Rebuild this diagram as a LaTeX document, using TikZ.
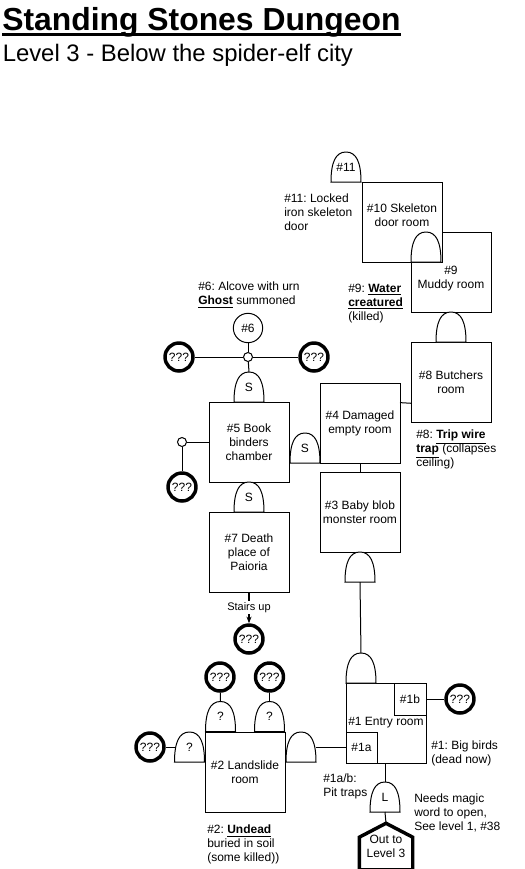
\documentclass[tikz,border=0pt]{standalone}
\usepackage{fontspec}
\setmainfont{Liberation Sans}
\usepackage{tikz}
\usetikzlibrary{arrows.meta,positioning}
\newdimen\shapeleft
\newdimen\shaperight
\newdimen\shapetop
\newdimen\shapebottom
\newdimen\shapemid
\newdimen\shapeside
\newdimen\shapebend
\makeatletter
\newcommand{\shapeextent}[1]{%
  \southwest \shapeleft=\pgf@x \shapebottom=\pgf@y
  \northeast \shaperight=\pgf@x \shapetop=\pgf@y
  \shapemid=.5\shapeleft \advance\shapemid by .5\shaperight
  \shapeside=#1\shapetop \advance\shapeside by \shapebottom \advance\shapeside by -#1\shapebottom
  \shapebend=.15\shaperight \advance\shapebend by -.15\shapeleft
}
\pgfdeclareshape{archdoor}{
  \inheritsavedanchors[from=rectangle]
  \inheritanchorborder[from=rectangle]
  \inheritanchor[from=rectangle]{center}
  \inheritanchor[from=rectangle]{north}
  \inheritanchor[from=rectangle]{south}
  \inheritanchor[from=rectangle]{east}
  \inheritanchor[from=rectangle]{west}
  \inheritanchor[from=rectangle]{south west}
  \inheritanchor[from=rectangle]{south east}
  \backgroundpath{
    \shapeextent{.65}
    \pgfpathmoveto{\pgfqpoint{\shapeleft}{\shapebottom}}
    \pgfpathcurveto{\pgfqpoint{\shapeleft}{\shapeside}}
      {\pgfpointadd{\pgfqpoint{\shapeleft}{\shapetop}}{\pgfqpoint{\shapebend}{0pt}}}
      {\pgfqpoint{\shapemid}{\shapetop}}
    \pgfpathcurveto{\pgfpointadd{\pgfqpoint{\shaperight}{\shapetop}}{\pgfqpoint{-\shapebend}{0pt}}}
      {\pgfqpoint{\shaperight}{\shapeside}}
      {\pgfqpoint{\shaperight}{\shapebottom}}
    \pgfpathclose
  }
}
\pgfdeclareshape{exithouse}{
  \inheritsavedanchors[from=rectangle]
  \inheritanchorborder[from=rectangle]
  \inheritanchor[from=rectangle]{center}
  \inheritanchor[from=rectangle]{north}
  \inheritanchor[from=rectangle]{south}
  \backgroundpath{
    \shapeextent{.7}
    \pgfpathmoveto{\pgfqpoint{\shapeleft}{\shapebottom}}
    \pgfpathlineto{\pgfqpoint{\shapeleft}{\shapeside}}
    \pgfpathlineto{\pgfqpoint{\shapemid}{\shapetop}}
    \pgfpathlineto{\pgfqpoint{\shaperight}{\shapeside}}
    \pgfpathlineto{\pgfqpoint{\shaperight}{\shapebottom}}
    \pgfpathclose
  }
}
\makeatother
\newcommand{\plantext}{\fontsize{9}{10.5}\selectfont\frenchspacing}
\tikzset{
  room/.style={
    draw=black,
    fill=white,
    align=center,
    minimum size=60pt,
    inner sep=0pt,
    outer sep=0pt,
    line width=.75pt,
    font=\plantext
  },
  subroom/.style={
    room,
    minimum size=24pt
  },
  door/.style={
    shape=archdoor,
    draw=black,
    fill=white,
    minimum size=22.5pt,
    inner sep=0pt,
    outer sep=0pt,
    line width=.75pt,
    font=\plantext
  },
  unknown/.style={
    circle,
    draw=black,
    fill=white,
    minimum size=21pt,
    inner sep=0pt,
    line width=2.6pt,
    font=\plantext
  },
  alcove/.style={
    circle,
    draw=black,
    fill=white,
    minimum size=22pt,
    inner sep=0pt,
    line width=.75pt,
    font=\plantext
  },
  junction/.style={
    circle,
    draw=black,
    fill=white,
    minimum size=6.75pt,
    inner sep=0pt,
    line width=.75pt
  },
  exitdoor/.style={
    shape=exithouse,
    draw=black,
    fill=white,
    align=center,
    minimum width=37.5pt,
    minimum height=32.25pt,
    inner sep=0pt,
    line width=2.6pt,
    font=\plantext
  },
  note/.style={
    align=left,
    anchor=north west,
    inner sep=0pt,
    font=\plantext
  },
  hall/.style={
    line width=.75pt,
    black
  },
  arrow/.style={
    -{Stealth[length=5pt]},
    line width=1.1pt,
    black
  }
}

\begin{document}
\begin{tikzpicture}[x=.75pt,y=-.75pt]
\useasboundingbox (0,0) rectangle (525,869);

\node[note, font=\fontsize{23.9}{28}\selectfont\bfseries] (title) at (2,7) {Standing Stones Dungeon};
\node[note, font=\fontsize{17.9}{21}\selectfont] (subtitle) at (2.5,44) {Level 3 - Below the spider-elf city};
\draw[line width=2pt] ([yshift=-3pt]title.base west) -- ([yshift=-3pt]title.base east);

\node[room] (room9) at (451,272) {\vphantom{\#9}\\\#9\\Muddy room};
\node[room] (room10) at (402,222) {\#10 Skeleton\\door room\\\mbox{}};
\node[room] (room8) at (451,382) {\#8 Butchers\\room};
\node[room] (room4) at (360,423) {\#4 Damaged\\empty room};
\node[room] (room3) at (360,512) {\#3 Baby blob\\monster room};
\node[room] (room5) at (249,442) {\#5 Book\\binders\\chamber};
\node[room] (room7) at (249,552) {\#7 Death\\place of\\Paioria};
\node[room] (room2) at (245,772) {\#2 Landslide\\room};
\node[room] (room1) at (386,723) {\#1 Entry room};
\node[subroom, anchor=north east] (room1b) at (room1.north east) {\#1b};
\node[subroom, anchor=south west, minimum size=23.25pt] (room1a) at (room1.south west) {\#1a};

\node[door] (door11) at (346,167) {\#11};
\node[door] (door9) at (426,247) {};
\node[door, above=0pt of room8] (door8) {};
\node[door, above=0pt of room5] (door5) {S};
\node[door, anchor=south east] (door4) at (room4.south west) {S};
\node[door, above=0pt of room7] (door7) {S};
\node[door, below=0pt of room3] (door3) {};
\node[door] (door1) at (361,668) {};
\node[door] (doorL) at (385,797) {L};
\node[door] (door2w) at (189.5,747) {?};
\node[door] (door2a) at (220.5,716.5) {?};
\node[door] (door2b) at (269.5,716.5) {?};
\node[door] (door2e) at (301,747) {};

\node[alcove] (alcove6) at (248,328) {\#6};
\node[junction] (junction6) at (248,357) {};
\node[junction] (junction5) at (182,442) {};
\node[unknown] (unknown6w) at (179,357) {???};
\node[unknown] (unknown6e) at (314,357) {???};
\node[unknown] (unknown5) at (182,487) {???};
\node[unknown] (unknown7) at (249,639) {???};
\node[unknown] (unknown2a) at (220,677) {???};
\node[unknown] (unknown2b) at (269.5,677) {???};
\node[unknown] (unknown2w) at (150,747) {???};
\node[unknown] (unknown1) at (460,699) {???};
\node[exitdoor] (exit3) at (386,846.5) {Out to\\Level 3};

\draw[hall] (alcove6) -- (junction6);
\draw[hall] (junction6) -- (door5.north);
\draw[hall] (unknown6w) -- (junction6);
\draw[hall] (junction6) -- (unknown6e);
\draw[hall] (junction5) -- (room5.west);
\draw[hall] (junction5) -- (unknown5);
\draw[hall] (room4.27) -- (room8.208);
\draw[hall] (room4.south) -- (room3.north);
\draw[hall] (door3.south) -- (door1.north);
\draw[hall] (room1b.east) -- (unknown1);
\draw[hall] (door2e.east) -- (room1a.west |- door2e.east);
\draw[hall] (room1.south -| doorL.north) -- (doorL.north);
\draw[hall] (doorL.south) -- (exit3.north);
\draw[hall] (unknown2w) -- (door2w.west);
\draw[hall] (unknown2a) -- (door2a.north);
\draw[hall] (unknown2b) -- (door2b.north);
\draw[arrow] (room7.south) -- (unknown7) node[midway, fill=white, inner sep=1pt, font=\fontsize{8.25}{10}\selectfont] (stairs) {Stairs up};

\node[note] (note11) at (284,194) {\#11: Locked\\iron skeleton\\door};
\node[note] (note9) at (348,284) {\#9: \underline{\textbf{Water}}\\\underline{\textbf{creatured}}\\(killed)};
\node[note] (note6) at (198,282) {\#6: Alcove with urn\\\underline{\textbf{Ghost}} summoned};
\node[note] (note8) at (416,430) {\#8: \underline{\textbf{Trip wire}}\\\underline{\textbf{trap}} (collapses\\ceiling)};
\node[note] (note1) at (431,741) {\#1: Big birds\\(dead now)};
\node[note] (note1ab) at (323,774) {\#1a/b:\\Pit traps};
\node[note] (notemagic) at (414,794) {Needs magic\\word to open,\\See level 1, \#38};
\node[note] (note2) at (207,825) {\#2: \underline{\textbf{Undead}}\\buried in soil\\(some killed))};
\end{tikzpicture}
\end{document}
